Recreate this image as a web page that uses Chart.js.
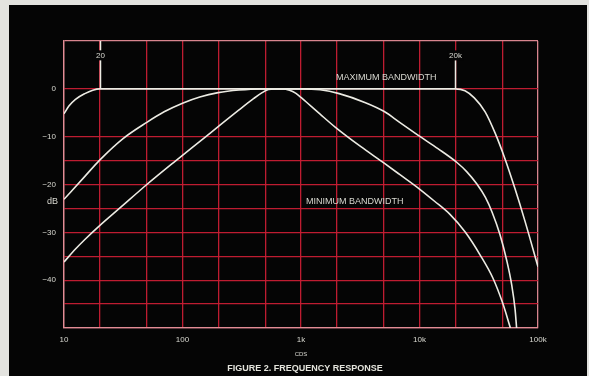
<!DOCTYPE html>
<html>
<head>
<meta charset="utf-8">
<script src="https://cdn.jsdelivr.net/npm/chart.js@4/dist/chart.umd.min.js"></script>
<style>
  html, body { margin: 0; padding: 0; background: #e3e3df; }
  canvas { display: block; }
</style>
</head>
<body>
<canvas id="chart" width="589" height="376"></canvas>
<script>
// Frequency axis (Hz) grid and labels
const freqGrid = [10, 20, 50, 100, 200, 500, 1000, 2000, 5000, 10000, 20000, 50000, 100000];
const freqLabels = { 10: '10', 100: '100', 1000: '1k', 10000: '10k', 100000: '100k' };

// Level axis (dB) grid and labels
const dbGrid = [-50, -45, -40, -35, -30, -25, -20, -15, -10, 0, 10];
const dbLabels = { 0: '0', '-10': '\u221210', '-20': '\u221220', '-30': '\u221230', '-40': '\u221240' };

// Maximum bandwidth response
const maxFreq = [10, 11, 12.5, 15, 17.5, 20, 20000, 24200, 29000, 35800, 43400, 52600, 63800, 77300, 100000];
const maxDb   = [-5.2, -3.6, -2.2, -1.0, -0.3, 0, 0, -0.4, -1.9, -4.8, -9.2, -14.6, -20.8, -27.5, -37.2];

// Intermediate (wide) response
const wideFreq = [10, 15, 20, 31.5, 50, 70, 100, 140, 200, 300, 450, 1000, 1450, 2100, 3500, 5000, 6800, 10000, 14300, 20700, 25000, 30500, 36000, 41000, 47800, 54600, 60000, 64000, 66000];
const wideDb   = [-23.1, -18.3, -14.9, -10.4, -7, -4.8, -3, -1.7, -0.8, -0.25, 0, 0, -0.2, -1.0, -2.9, -4.7, -7.0, -9.9, -12.5, -15.4, -17.3, -19.9, -22.7, -25.8, -30.5, -36, -41, -46, -50];

// Minimum bandwidth response
const minFreq = [10, 12.5, 15, 20, 30, 50, 86, 150, 200, 300, 400, 470, 530, 600, 700, 800, 900, 1000, 1090, 1450, 1930, 3180, 5000, 6840, 10000, 13400, 18000, 24400, 32600, 41700, 50500, 58500];
const minDb   = [-36.2, -33.5, -31.5, -28.6, -24.8, -20, -15.2, -10.4, -7.9, -4.4, -2.0, -0.8, -0.15, 0, 0, -0.3, -0.9, -1.8, -2.6, -5.3, -7.95, -12.05, -15.5, -17.95, -20.95, -23.5, -26.2, -30, -34.8, -39.6, -44.9, -50];

// Band-edge markers
const markerFreqs = [20, 20000];
const markerText = ['20', '20k'];

const toPoints = (fs, ds) => fs.map((f, i) => ({ x: f, y: ds[i] }));

const CURVE = '#ecebe3';
const GRID = 'rgba(200, 30, 52, 0.95)';
const FRAME = 'rgba(228, 140, 150, 0.95)';
const TEXT = '#d9d9d1';
const FONT = '"Liberation Sans", Arial, sans-serif';

const panel = {
  id: 'panel',
  beforeDraw(chart) {
    const { ctx, width, height } = chart;
    ctx.save();
    ctx.fillStyle = '#e3e3df';
    ctx.fillRect(0, 0, width, height);
    ctx.fillStyle = '#050505';
    ctx.fillRect(9, 5, width - 11, height - 5);
    ctx.restore();
  }
};

const notes = {
  id: 'notes',
  afterDatasetsDraw(chart) {
    const { ctx } = chart;
    const xs = chart.scales.x, ys = chart.scales.y;
    ctx.save();
    // band-edge markers
    const tops = [10, 6];
    markerFreqs.forEach((f, i) => {
      const x = Math.round(xs.getPixelForValue(f)) + 0.5;
      ctx.strokeStyle = CURVE;
      ctx.lineWidth = 1.5;
      ctx.beginPath();
      ctx.moveTo(x, ys.getPixelForValue(tops[i]));
      ctx.lineTo(x, ys.getPixelForValue(0));
      ctx.stroke();
      ctx.fillStyle = '#050505';
      ctx.fillRect(x - 8, ys.getPixelForValue(7) - 5, 16, 10);
      ctx.fillStyle = TEXT;
      ctx.font = '8px ' + FONT;
      ctx.textAlign = 'center';
      ctx.textBaseline = 'middle';
      ctx.fillText(markerText[i], x, ys.getPixelForValue(7));
    });

    // curve names
    ctx.fillStyle = TEXT;
    ctx.font = '9px ' + FONT;
    ctx.textAlign = 'left';
    ctx.textBaseline = 'middle';
    ctx.fillText('MAXIMUM BANDWIDTH', xs.getPixelForValue(1970), ys.getPixelForValue(2.3));
    ctx.fillText('MINIMUM BANDWIDTH', xs.getPixelForValue(1100), ys.getPixelForValue(-23.6));

    // unit label on the level axis
    ctx.textAlign = 'right';
    ctx.fillText('dB', xs.left - 6, ys.getPixelForValue(-23.6));

    // frequency unit and caption
    ctx.textAlign = 'center';
    ctx.font = '6px ' + FONT;
    ctx.fillText('CDS', xs.getPixelForValue(1000), 354);
    ctx.font = 'bold 9px ' + FONT;
    ctx.fillStyle = '#e4e4dc';
    ctx.fillText('FIGURE 2. FREQUENCY RESPONSE', 305, 369);
    ctx.restore();
  }
};

const lineSet = (label, pts) => ({
  label,
  data: pts,
  borderColor: CURVE,
  borderWidth: 1.6,
  pointRadius: 0,
  fill: false,
  cubicInterpolationMode: 'monotone'
});

new Chart(document.getElementById('chart'), {
  type: 'line',
  data: {
    datasets: [
      lineSet('Maximum bandwidth', toPoints(maxFreq, maxDb)),
      lineSet('Intermediate', toPoints(wideFreq, wideDb)),
      lineSet('Minimum bandwidth', toPoints(minFreq, minDb))
    ]
  },
  options: {
    responsive: false,
    animation: false,
    devicePixelRatio: 1,
    layout: { padding: { left: 0, top: 41, right: 51, bottom: 0 } },
    plugins: {
      legend: { display: false },
      tooltip: { enabled: false },
      title: { display: false }
    },
    scales: {
      x: {
        type: 'logarithmic',
        min: 10,
        max: 100000,
        afterBuildTicks(s) { s.ticks = freqGrid.map(v => ({ value: v })); },
        afterFit(s) { s.height = 48; },
        grid: {
          drawTicks: false,
          lineWidth: 1.3,
          color: c => (c.tick && (c.tick.value === 10 || c.tick.value === 100000)) ? FRAME : GRID
        },
        border: { color: FRAME, width: 1.3 },
        ticks: {
          autoSkip: false,
          maxRotation: 0,
          padding: 7,
          color: TEXT,
          font: { family: FONT, size: 8 },
          callback: v => freqLabels[v] || ''
        }
      },
      y: {
        type: 'linear',
        min: -50,
        max: 10,
        afterBuildTicks(s) { s.ticks = dbGrid.map(v => ({ value: v })); },
        afterFit(s) { s.width = 64; },
        grid: {
          drawTicks: false,
          lineWidth: 1.3,
          color: c => (c.tick && (c.tick.value === 10 || c.tick.value === -50)) ? FRAME : GRID
        },
        border: { color: FRAME, width: 1.3 },
        ticks: {
          autoSkip: false,
          padding: 8,
          color: TEXT,
          font: { family: FONT, size: 8 },
          callback: v => dbLabels[v] || ''
        }
      }
    }
  },
  plugins: [panel, notes]
});
</script>
</body>
</html>
